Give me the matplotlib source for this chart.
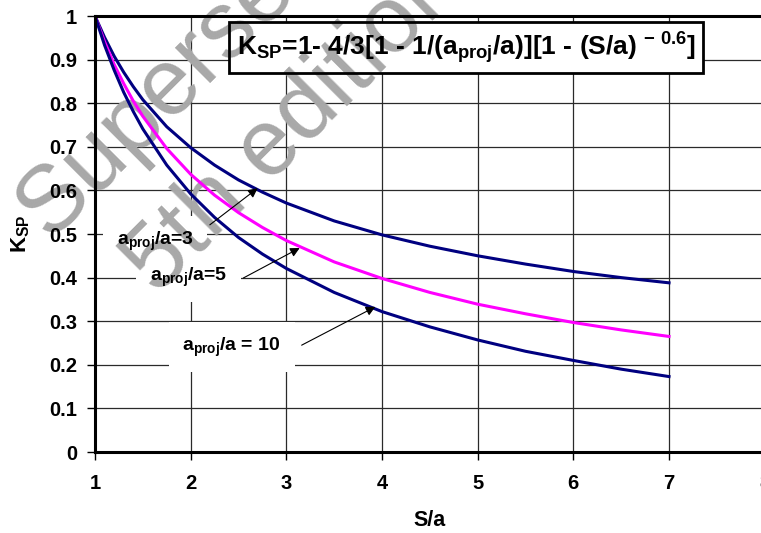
import matplotlib
matplotlib.use('Agg')
import matplotlib.pyplot as plt

# ---------------- data ----------------
s_over_a = [1.0, 1.1, 1.2, 1.3, 1.4, 1.5, 1.75, 2.0, 2.25, 2.5, 2.75, 3.0,
            3.5, 4.0, 4.5, 5.0, 5.5, 6.0, 6.5, 7.0]
k_sp_3 = [1.000, 0.951, 0.908, 0.871, 0.838, 0.808, 0.746, 0.698, 0.658, 0.624,
          0.596, 0.571, 0.530, 0.498, 0.472, 0.450, 0.431, 0.414, 0.400, 0.388]
k_sp_5 = [1.000, 0.941, 0.889, 0.845, 0.805, 0.770, 0.696, 0.637, 0.589, 0.549,
          0.515, 0.485, 0.436, 0.398, 0.366, 0.339, 0.317, 0.297, 0.280, 0.265]
k_sp_10 = [1.000, 0.933, 0.876, 0.825, 0.781, 0.741, 0.658, 0.592, 0.538, 0.492,
           0.454, 0.421, 0.366, 0.322, 0.287, 0.257, 0.231, 0.210, 0.190, 0.173]

x_ticks = [1, 2, 3, 4, 5, 6, 7, 8]
y_ticks = [0, 0.1, 0.2, 0.3, 0.4, 0.5, 0.6, 0.7, 0.8, 0.9, 1]
y_tick_labels = ['0', '0.1', '0.2', '0.3', '0.4', '0.5', '0.6', '0.7', '0.8', '0.9', '1']

curve_labels = ['a$_{proj}$/a=3', 'a$_{proj}$/a=5', 'a$_{proj}$/a = 10']
title_text = 'K$_{SP}$=1- 4/3[1 - 1/(a$_{proj}$/a)][1 - (S/a) $^{-\\ 0.6}$]'
watermark_lines = ['Superseded', '5th edition']

# ---------------- layout / style ----------------
plt.rcParams['font.family'] = ['Liberation Sans', 'DejaVu Sans']
plt.rcParams['mathtext.default'] = 'regular'

W, H = 761, 533
fig = plt.figure(figsize=(W / 100, H / 100), dpi=100)
pos = [95 / W, 81 / H, 669.7 / W, 436 / H]

ax = fig.add_axes(pos)
ax.set_axisbelow(True)
ax.set_xlim(1, 8)
ax.set_ylim(0, 1)
ax.set_xticks(x_ticks)
ax.set_yticks(y_ticks)
ax.tick_params(labelleft=False, labelbottom=False, length=0)
ax.grid(True, color='#2a2a2a', lw=0.9)
for sp in ax.spines.values():
    sp.set_visible(False)

navy = '#000080'
magenta = '#FF00FF'
ax.plot(s_over_a, k_sp_3, color=navy, lw=2.2, zorder=2)
ax.plot(s_over_a, k_sp_5, color=magenta, lw=2.2, zorder=2)
ax.plot(s_over_a, k_sp_10, color=navy, lw=2.2, zorder=2)

label_pos = [(1.63, 0.484), (1.98, 0.401), (2.43, 0.241)]
arrow_from = [(2.20, 0.521), (2.55, 0.399), (3.16, 0.245)]
arrow_to = [(2.70, 0.605), (3.14, 0.468), (3.93, 0.333)]

lab_fs = 14
for txt, (lx, ly) in zip(curve_labels, label_pos):
    ax.text(lx, ly, txt, ha='center', va='center', fontsize=lab_fs,
            fontweight='bold', color='none', zorder=1,
            bbox=dict(boxstyle='square,pad=0.7', fc='white', ec='none'))
    ax.text(lx, ly, txt, ha='center', va='center', fontsize=lab_fs,
            fontweight='bold', color='black', zorder=3)
for (x0, y0), (x1, y1) in zip(arrow_from, arrow_to):
    ax.annotate('', xy=(x1, y1), xytext=(x0, y0), zorder=2.5,
                arrowprops=dict(arrowstyle='-|>', color='black', lw=0.8,
                                mutation_scale=14, shrinkA=0, shrinkB=0))

# title box
tx, ty = 4.88, 0.927
title_fs = 19
ax.text(tx, ty, title_text, ha='center', va='center', fontsize=title_fs,
        fontweight='bold', color='none', zorder=1,
        bbox=dict(boxstyle='square,pad=0.28', fc='white', ec='none'))
ax.text(tx, ty, title_text, ha='center', va='center', fontsize=title_fs,
        fontweight='bold', color='black', zorder=3,
        bbox=dict(boxstyle='square,pad=0.28', fc='none', ec='black', lw=2))

# watermark (between background boxes and the marks)
wm_color = '#a8a8a8'
ax.text(230 / W, 1 - 60 / H, watermark_lines[0], transform=fig.transFigure,
        rotation=45, rotation_mode='anchor', ha='center', va='baseline',
        fontsize=68, color=wm_color, zorder=1.5, clip_on=False)
ax.text(312 / W, 1 - 142 / H, watermark_lines[1], transform=fig.transFigure,
        rotation=45, rotation_mode='anchor', ha='center', va='baseline',
        fontsize=68, color=wm_color, zorder=1.5, clip_on=False)

# overlay axes carrying spines, ticks and tick labels on top
ax2 = fig.add_axes(pos, zorder=5)
ax2.patch.set_visible(False)
ax2.set_xlim(1, 8)
ax2.set_ylim(0, 1)
ax2.set_xticks(x_ticks)
ax2.set_xticklabels([str(v) for v in x_ticks])
ax2.set_yticks(y_ticks)
ax2.set_yticklabels(y_tick_labels)
ax2.spines['right'].set_visible(False)
for s in ['left', 'bottom', 'top']:
    ax2.spines[s].set_linewidth(2.2)
    ax2.spines[s].set_color('black')
ax2.tick_params(axis='both', direction='out', length=6, width=1, labelsize=14.5,
                top=False, right=False)
ax2.tick_params(axis='x', pad=10)
ax2.tick_params(axis='y', pad=7)
for lbl in ax2.get_xticklabels() + ax2.get_yticklabels():
    lbl.set_fontweight('bold')
ax2.set_xlabel('S/a', fontsize=15.5, fontweight='bold', labelpad=12)
ax2.set_ylabel('K$_{SP}$', fontsize=16, fontweight='bold', labelpad=12)

fig.savefig('out.png', dpi=100)
